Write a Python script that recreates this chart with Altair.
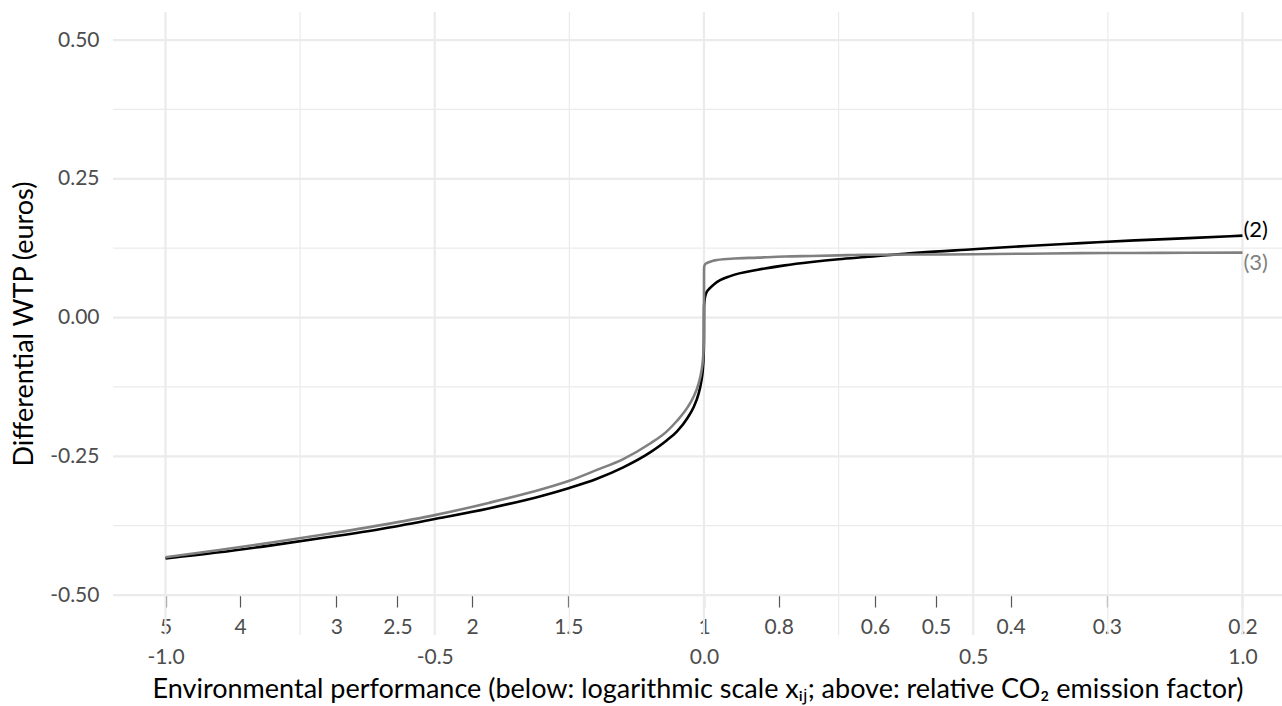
import math
import altair as alt
import pandas as pd

# ---------------- data ----------------
SERIES_NAMES = ["(2)", "(3)"]
SERIES_COLORS = ["#000000", "#808080"]

# logarithmic-scale positions x_ij
X_POS = [-1.0, -0.9, -0.8, -0.7, -0.6, -0.5, -0.4, -0.3, -0.25, -0.2, -0.15, -0.1,
         -0.07, -0.05, -0.03, -0.02, -0.01, -0.005, -0.002, -0.0005, -0.0001,
         0.0001, 0.0005, 0.002, 0.005, 0.01, 0.02, 0.05, 0.1, 0.15, 0.2, 0.25,
         0.3, 0.4, 0.5, 0.6, 0.7, 0.8, 0.9, 1.0]

# series (2): differential WTP (euros)
Y_SERIES2 = [-0.434, -0.423, -0.410, -0.396, -0.381, -0.363, -0.344, -0.321, -0.307,
             -0.291, -0.270, -0.243, -0.222, -0.205, -0.180, -0.163, -0.137, -0.115,
             -0.092, -0.065, -0.043,
             0.018, 0.026, 0.037, 0.046, 0.052, 0.061, 0.075, 0.086, 0.094, 0.100,
             0.105, 0.109, 0.117, 0.123, 0.129, 0.134, 0.139, 0.143, 0.1475]

# series (3): differential WTP (euros)
Y_SERIES3 = [-0.432, -0.419, -0.405, -0.390, -0.374, -0.356, -0.334, -0.309, -0.294,
             -0.275, -0.255, -0.227, -0.206, -0.186, -0.161, -0.144, -0.119, -0.098,
             -0.076, -0.051, -0.033,
             0.087, 0.092, 0.096, 0.098, 0.100, 0.103, 0.106, 0.108, 0.110, 0.111,
             0.112, 0.113, 0.1135, 0.114, 0.115, 0.116, 0.1163, 0.1167, 0.117]

# upper label row: relative CO2 emission factor
FACTOR_LABELS = [5, 4, 3, 2.5, 2, 1.5, 1, 0.8, 0.6, 0.5, 0.4, 0.3, 0.2]
FACTOR_POS = [-math.log(f) / math.log(5) for f in FACTOR_LABELS]

X_TICKS = [-1.0, -0.5, 0.0, 0.5, 1.0]
X_MINOR = [-0.75, -0.25, 0.25, 0.75]
Y_TICKS = [-0.5, -0.25, 0.0, 0.25, 0.5]
Y_MINOR = [-0.375, -0.125, 0.125, 0.375]

# ---------------- chart ----------------
W, H = 1169, 623
FONT = "Lato"
LABEL_C = "#4d4d4d"
GRID_C = "#EBEBEB"
TICK_FS = 21
TITLE_FS = 27

xs = alt.Scale(domain=[-1.0975, 1.0734], nice=False, zero=False)
ys = alt.Scale(domain=[-0.572, 0.5505], nice=False, zero=False)


def vgrid(vals, w):
    return alt.Chart(pd.DataFrame({"gx": vals})).mark_rule(
        color=GRID_C, strokeWidth=w).encode(x=alt.X("gx:Q", scale=xs, axis=None))


def hgrid(vals, w):
    return alt.Chart(pd.DataFrame({"gy": vals})).mark_rule(
        color=GRID_C, strokeWidth=w).encode(y=alt.Y("gy:Q", scale=ys, axis=None))


df2 = pd.DataFrame({"x": X_POS, "y": Y_SERIES2})
df3 = pd.DataFrame({"x": X_POS, "y": Y_SERIES3})

main_x_axis = alt.Axis(
    orient="bottom", offset=0, values=X_TICKS,
    labelExpr="replace(format(datum.value, '.1f'), '\u2212', '-')",
    ticks=False, domain=False, grid=False,
    labelPadding=11, labelFontSize=TICK_FS, labelColor=LABEL_C, labelFont=FONT,
    title="Environmental performance (below: logarithmic scale x\u1d62\u2c7c; above: relative CO\u2082 emission factor)",
    titleFontSize=TITLE_FS, titleFontWeight="normal", titleColor="#000000", titleFont=FONT,
    titlePadding=9,
)

factor_axis = alt.Axis(
    orient="bottom", offset=-40, values=FACTOR_POS,
    labelExpr="format(pow(5, -datum.value), '.2~r')",
    ticks=True, tickSize=12, tickColor="#555555", tickWidth=1.2,
    domain=False, grid=False, labelFlush=False, labelOverlap=False,
    labelPadding=9, labelFontSize=TICK_FS, labelColor=LABEL_C, labelFont=FONT,
    title=None,
)

y_axis = alt.Axis(
    orient="left", values=Y_TICKS,
    labelExpr="replace(format(datum.value, '.2f'), '\u2212', '-')",
    ticks=False, domain=False, grid=False,
    labelPadding=14, labelFontSize=TICK_FS, labelColor=LABEL_C, labelFont=FONT,
    title="Differential WTP (euros)",
    titleFontSize=TITLE_FS, titleFontWeight="normal", titleColor="#000000", titleFont=FONT,
    titlePadding=11,
)

line2 = alt.Chart(df2).mark_line(
    color=SERIES_COLORS[0], strokeWidth=2.6, interpolate="monotone"
).encode(
    x=alt.X("x:Q", scale=xs, axis=main_x_axis),
    y=alt.Y("y:Q", scale=ys, axis=y_axis),
)

line3 = alt.Chart(df3).mark_line(
    color=SERIES_COLORS[1], strokeWidth=2.6, interpolate="monotone"
).encode(
    x=alt.X("x:Q", scale=xs, axis=factor_axis),
    y=alt.Y("y:Q", scale=ys, axis=None),
)

lab2 = alt.Chart(pd.DataFrame({"x": [X_POS[-1]], "y": [Y_SERIES2[-1]], "t": [SERIES_NAMES[0]]})).mark_text(
    align="left", dx=1, dy=-6, fontSize=22, font=FONT, color=SERIES_COLORS[0]
).encode(x=alt.X("x:Q", scale=xs, axis=None), y=alt.Y("y:Q", scale=ys, axis=None), text="t:N")

lab3 = alt.Chart(pd.DataFrame({"x": [X_POS[-1]], "y": [Y_SERIES3[-1]], "t": [SERIES_NAMES[1]]})).mark_text(
    align="left", dx=1, dy=10, fontSize=22, font=FONT, color=SERIES_COLORS[1]
).encode(x=alt.X("x:Q", scale=xs, axis=None), y=alt.Y("y:Q", scale=ys, axis=None), text="t:N")

chart = alt.layer(
    vgrid(X_MINOR, 1.2), hgrid(Y_MINOR, 1.2),
    vgrid(X_TICKS, 2.2), hgrid(Y_TICKS, 2.2),
    line2, line3, lab2, lab3,
).resolve_axis(x="independent", y="independent").properties(
    width=W, height=H,
    autosize=alt.AutoSizeParams(type="none"),
    padding={"left": 113, "top": 12, "right": 0, "bottom": 71},
    background="white",
).configure(font=FONT).configure_view(stroke=None)

chart.save("out.html", embed_options={"renderer": "svg", "actions": False})
